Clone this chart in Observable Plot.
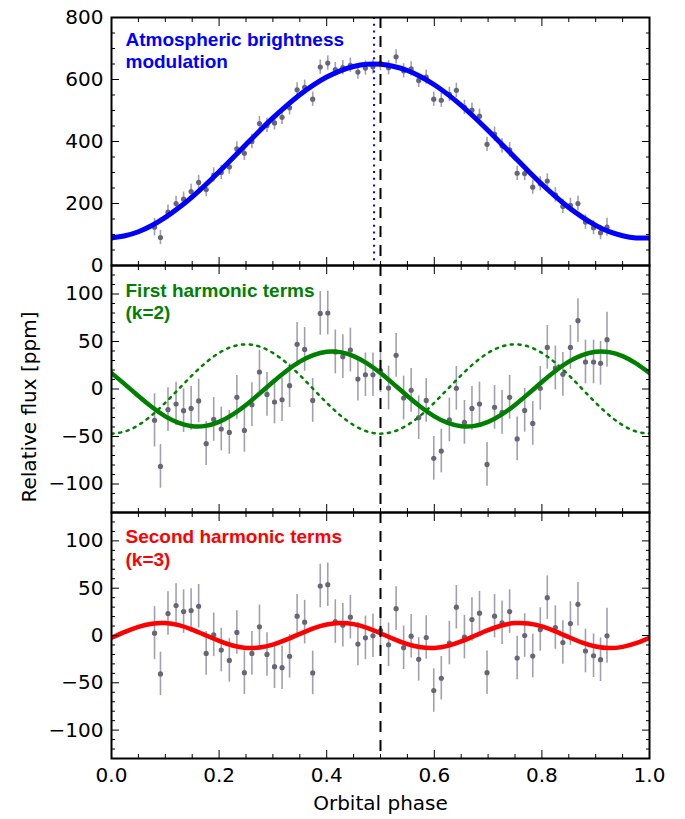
<!DOCTYPE html>
<html><head><meta charset="utf-8">
<script src="https://cdn.jsdelivr.net/npm/d3@7"></script>
<script src="https://cdn.jsdelivr.net/npm/@observablehq/plot@0.6"></script>
<style>
body{margin:0;background:#fff;}
#chart{width:685px;height:819px;position:relative;}
#chart svg{display:block;overflow:visible;}
</style></head><body><div id="chart"></div>
<script>
// binned observations (orbital phase)
const phase = [0.080,0.091,0.105,0.120,0.134,0.148,0.162,0.176,0.190,0.204,
 0.219,0.233,0.247,0.261,0.275,0.289,0.303,0.317,0.331,0.345,
 0.359,0.374,0.388,0.402,0.416,0.430,0.444,0.458,0.472,0.486,
 0.500,0.515,0.529,0.543,0.557,0.571,0.585,0.599,0.613,0.628,
 0.641,0.656,0.670,0.684,0.698,0.712,0.726,0.740,0.754,0.768,
 0.783,0.797,0.810,0.825,0.839,0.853,0.867,0.881,0.896,0.909,
 0.921];
const atmFlux = [123.6,90.3,172,200,214,238.7,268,245,292,300,
 318,376,362,400,458,452,460,478,508.6,566.7,
 575,536.6,640,653,632,638,646,624,637,641,
 651,638,673,628,634,597,607.5,536.5,533,552,
 565,510,501,481.7,391,424,386,373,297.5,296.5,
 252.7,264,272.5,228,190.5,194,200,140,122,106,
 123.6];
const k2Flux = [-33,-81.5,-21.8,-15.8,-22.8,-20.4,-12.6,-57.6,-32,-42.1,
 -45.7,-8.8,-43.6,-16.5,17.9,-5.7,-13.7,-11.3,3.5,47,
 41.7,-12,79.6,80,39,34,41,10.5,15,15,
 19.3,1,35.4,-9.5,-1.4,-30.2,-12,-73,-65.3,-32.6,
 0.7,-35.1,-20.4,-15.8,-79.4,-19.3,-24.6,-8.8,-52.6,-22.5,
 -36.2,0.7,43.8,22.1,15.4,43.8,71.9,28.4,28.4,27,
 51.9];
const k3Flux = [2.5,-40.6,23.2,31.6,25.3,26.3,30.9,-18.9,0.7,-15.4,
 -26.3,3.2,-39.3,-18.9,9.2,-20,-33,-34,-22,20.4,
 14.1,-39.6,52.3,53.7,14.7,10.9,19.4,-9.1,-2.5,-0.3,
 5.3,-9.8,28.4,-12.9,-0.7,-25.2,-2.1,-58.2,-45.2,-8,
 29.9,-1.7,16.9,23.6,-39.3,20.4,13.4,25.3,-23.8,0,
 -21.7,6.3,40,8.4,-7.4,12.6,33,-16.4,-21.4,-25.6,
 -0.3];
const fluxErr = [28,23,23,23,23,23,23,23,23,23,
 23,23,23,23,23,23,23,23,23,23,
 23,23,23,23,23,23,23,23,23,23,
 23,23,23,23,23,23,23,23,23,23,
 23,23,23,23,23,23,23,23,23,23,
 23,23,23,23,23,23,23,23,23,23,
 29];

// model curves
const modelPhase = [0,0.025,0.05,0.075,0.1,0.125,0.15,0.175,0.2,0.225,0.25,0.275,0.3,0.325,0.35,0.375,0.4,0.425,0.45,0.475,
 0.5,0.525,0.55,0.575,0.6,0.625,0.65,0.675,0.7,0.725,0.75,0.775,0.8,0.825,0.85,0.875,0.9,0.925,0.95,0.975,1.0];
const atmModel = [89,96,109,129,155,186,221.5,260.6,302.6,346,390,434,476,515,551,582,608,628,642,649,
 649,642,629,609,583,552,516.5,477.4,435.4,392,348,304,262,223,187,156,129.4,109,96,89,89];
const k2Model = [16.8,4.9,-7.4,-19.0,-28.8,-35.7,-39.2,-38.8,-34.6,-27.0,-16.8,-4.9,7.4,19.0,28.8,35.7,39.2,38.8,34.6,27.0,
 16.8,4.9,-7.4,-19.0,-28.8,-35.7,-39.2,-38.8,-34.6,-27.0,-16.8,-4.9,7.4,19.0,28.8,35.7,39.2,38.8,34.6,27.0,16.8];
const k2AltModel = [-47,-44.7,-38,-27.6,-14.5,0,14.5,27.6,38,44.7,47,44.7,38,27.6,14.5,0,-14.5,-27.6,-38,-44.7,
 -47,-44.7,-38,-27.6,-14.5,0,14.5,27.6,38,44.7,47,44.7,38,27.6,14.5,0,-14.5,-27.6,-38,-44.7,-47];
const k3Model = [-2.4,3.8,9.2,12.5,13.2,11.0,6.3,0.3,-5.7,-10.6,-13.1,-12.7,-9.6,-4.4,1.7,7.6,11.7,13.3,12.0,8.1,
 2.4,-3.8,-9.2,-12.5,-13.2,-11.0,-6.3,-0.3,5.7,10.6,13.1,12.7,9.6,4.4,-1.7,-7.6,-11.7,-13.3,-12.0,-8.1,-2.4];

const peakPhase = [0.488];
const eclipsePhase = [0.5];

// ticks
const xMajor = [0,0.2,0.4,0.6,0.8,1.0];
const xMinor = [0.05,0.1,0.15,0.25,0.3,0.35,0.45,0.5,0.55,0.65,0.7,0.75,0.85,0.9,0.95];
const y1Major = [0,200,400,600,800];
const y1Minor = [50,100,150,250,300,350,450,500,550,650,700,750];
const y2Major = [-100,-50,0,50,100];
const y2Minor = [-130,-120,-110,-90,-80,-70,-60,-40,-30,-20,-10,10,20,30,40,60,70,80,90,110,120,130];

const labels = {
  atm: "Atmospheric brightness\nmodulation",
  k2: "First harmonic terms\n(k=2)",
  k3: "Second harmonic terms\n(k=3)",
  y: "Relative flux [ppm]",
  x: "Orbital phase"
};

const obs = (vals) => phase.map((p, i) => ({phase: p, v: vals[i], e: fluxErr[i]}));
const mod = (vals) => modelPhase.map((p, i) => ({phase: p, v: vals[i]}));

function decorations(yMajor, yMinor) {
  const o = {fill: "none", label: null, stroke: "black", strokeWidth: 1};
  return [
    Plot.axisX(xMajor, {...o, anchor: "bottom", tickSize: -8}),
    Plot.axisX(xMinor, {...o, anchor: "bottom", tickSize: -4}),
    Plot.axisX(xMajor, {...o, anchor: "top", tickSize: -8}),
    Plot.axisX(xMinor, {...o, anchor: "top", tickSize: -4}),
    Plot.axisY(yMajor, {...o, anchor: "left", tickSize: -8}),
    Plot.axisY(yMinor, {...o, anchor: "left", tickSize: -4}),
    Plot.axisY(yMajor, {...o, anchor: "right", tickSize: -8}),
    Plot.axisY(yMinor, {...o, anchor: "right", tickSize: -4}),
    Plot.axisY(yMajor, {anchor: "left", tickSize: 0, tickPadding: 8, fontSize: 20, label: null, tickFormat: d3.format("d"), fill: "black"}),
    Plot.frame({stroke: "black", strokeWidth: 2})
  ];
}

function dataMarks(vals) {
  const d = obs(vals);
  return [
    Plot.ruleX(d, {x: "phase", y1: r => r.v - r.e, y2: r => r.v + r.e, stroke: "#8a8a9a", strokeWidth: 1.6, strokeOpacity: 0.8}),
    Plot.dot(d, {x: "phase", y: "v", r: 2.6, fill: "#666676", stroke: "none"})
  ];
}

function annot(text, color, dy) {
  return Plot.text([text], {text: t => t, frameAnchor: "top-left", textAnchor: "start", lineAnchor: "top",
    dx: 14, dy, fill: color, fontWeight: "bold", fontSize: 19, fontFamily: "Liberation Sans, Arial, sans-serif", lineHeight: 1.2});
}

const common = {width: 685, marginLeft: 111, marginRight: 36, x: {domain: [0, 1]},
  style: {fontFamily: "DejaVu Sans", fontSize: "20px", overflow: "visible", background: "transparent", color: "black"}};

const dash = {stroke: "black", strokeWidth: 2, strokeDasharray: "11,8"};

const p1 = Plot.plot({...common, height: 265, marginTop: 17, marginBottom: 0,
  y: {domain: [0, 800]},
  marks: [
    ...dataMarks(atmFlux),
    Plot.line(mod(atmModel), {x: "phase", y: "v", stroke: "#0000ff", strokeWidth: 5, curve: "natural", clip: true}),
    Plot.ruleX(peakPhase, {x: d => d, stroke: "#0000ff", strokeWidth: 2, strokeDasharray: "2,4.7"}),
    Plot.ruleX(eclipsePhase, {x: d => d, ...dash}),
    ...decorations(y1Major, y1Minor),
    annot(labels.atm, "#0000ff", 12)
  ]});

const p2 = Plot.plot({...common, height: 247, marginTop: 0, marginBottom: 0,
  y: {domain: [-130, 130]},
  marks: [
    ...dataMarks(k2Flux),
    Plot.line(mod(k2AltModel), {x: "phase", y: "v", stroke: "#008000", strokeWidth: 2.5, strokeDasharray: "2.2,5.5", curve: "natural", clip: true}),
    Plot.line(mod(k2Model), {x: "phase", y: "v", stroke: "#008000", strokeWidth: 4.5, curve: "natural", clip: true}),
    Plot.ruleX(eclipsePhase, {x: d => d, ...dash}),
    ...decorations(y2Major, y2Minor),
    annot(labels.k2, "#008000", 15),
    Plot.text([labels.y], {text: t => t, frameAnchor: "left", textAnchor: "middle", rotate: -90, dx: -82, dy: 18, fontSize: 20, fill: "black"})
  ]});

const p3 = Plot.plot({...common, height: 307, marginTop: 0, marginBottom: 61,
  y: {domain: [-130, 130]},
  marks: [
    ...dataMarks(k3Flux),
    Plot.line(mod(k3Model), {x: "phase", y: "v", stroke: "#ff0000", strokeWidth: 4.5, curve: "natural", clip: true}),
    Plot.ruleX(eclipsePhase, {x: d => d, ...dash}),
    ...decorations(y2Major, y2Minor),
    Plot.axisX(xMajor, {anchor: "bottom", tickSize: 0, tickPadding: 9, fontSize: 20, label: null, tickFormat: d3.format(".1f"), fill: "black"}),
    annot(labels.k3, "#ff0000", 14.5),
    Plot.text([labels.x], {text: t => t, frameAnchor: "bottom", dy: 51, fontSize: 20, fill: "black"})
  ]});

const c = document.getElementById("chart");
c.append(p1, p2, p3);
</script></body></html>
